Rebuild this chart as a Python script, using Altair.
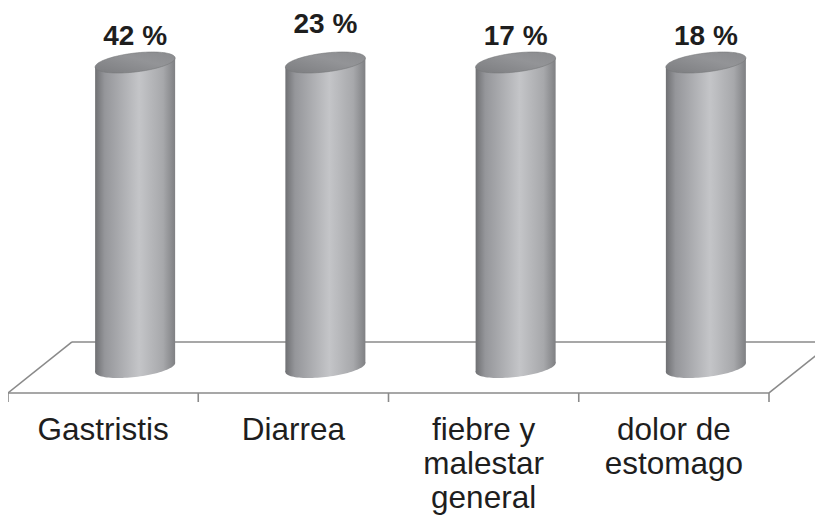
import math
import altair as alt
import pandas as pd

# ---- data ----
categories = ["Gastristis", "Diarrea", "fiebre y\nmalestar\ngeneral", "dolor de\nestomago"]
percent = [42, 23, 17, 18]
# in the picture every cylinder is drawn at the same height, whatever its percentage
drawn_height = [100, 100, 100, 100]

# ---- layout / style constants ----
N = len(categories)
BAND_PX = 190.25          # width of one category band in px
PX_PER_UNIT = 3.05        # px per y unit
HALF_DX = 32 / BAND_PX    # half of the 3-D floor depth, x direction (band units)
HALF_DY = 25.5 / PX_PER_UNIT  # half of the 3-D floor depth, y direction (y units)
HALF_W = 40 / BAND_PX     # half cylinder width (band units)
TILT = 4.5 / PX_PER_UNIT  # tilt of the elliptic ends (y units)
TICK = 9 / PX_PER_UNIT
CYL_PX = 80               # cylinder width in px (for the ellipse symbols)

FONT = "Liberation Sans"

def ellipse_path(beta, shear, n=96):
    pts = []
    for k in range(n):
        t = 2 * math.pi * k / n
        px = math.cos(t)
        py = beta * math.sin(t) - shear * math.cos(t)
        pts.append(f"{px:.4f},{py:.4f}")
    return "M" + " L".join(pts) + " Z"

ELLIPSE = ellipse_path(0.237, 4.5 / (CYL_PX / 2))

body_grad = {
    "gradient": "linear", "x1": 0, "y1": 0, "x2": 1, "y2": 0,
    "stops": [
        {"offset": 0.0, "color": "#6f7073"},
        {"offset": 0.12, "color": "#95969a"},
        {"offset": 0.55, "color": "#c4c5c8"},
        {"offset": 0.85, "color": "#a7a8ab"},
        {"offset": 1.0, "color": "#7f8083"},
    ],
}
top_grad = {
    "gradient": "linear", "x1": 0, "y1": 1, "x2": 1, "y2": 0,
    "stops": [
        {"offset": 0.0, "color": "#7c7d80"},
        {"offset": 0.6, "color": "#939497"},
        {"offset": 1.0, "color": "#8a8b8e"},
    ],
}

df = pd.DataFrame({
    "cat": categories,
    "idx": list(range(N)),
    "pct": percent,
    "h": drawn_height,
})
df["label"] = [f"{p} %" for p in percent]

x_scale = alt.Scale(domain=[0, N], nice=False, zero=False)
y_scale = alt.Scale(domain=[-48.69, 117.87], nice=False, zero=False)
X = lambda f: alt.X(f, scale=x_scale, axis=None)
Y = lambda f: alt.Y(f, scale=y_scale, axis=None, stack=None)

# floor parallelogram (front, back, left, right edges)
floor_df = pd.DataFrame({
    "x": [0, 2 * HALF_DX, 0, N],
    "x2": [N, N + 2 * HALF_DX, 2 * HALF_DX, N + 2 * HALF_DX],
    "y": [-HALF_DY, HALF_DY, -HALF_DY, -HALF_DY],
    "y2": [-HALF_DY, HALF_DY, HALF_DY, HALF_DY],
})
floor = alt.Chart(floor_df).mark_rule(color="#8a8a8a", strokeWidth=1.6).encode(
    x=X("x:Q"), x2="x2:Q", y=Y("y:Q"), y2="y2:Q"
)

tick_df = pd.DataFrame({"x": list(range(N + 1))})
ticks = alt.Chart(tick_df).mark_rule(color="#8a8a8a", strokeWidth=1.6).transform_calculate(
    y=f"{-HALF_DY}", y2=f"{-HALF_DY - TICK}"
).encode(x=X("x:Q"), y=Y("y:Q"), y2="y2:Q")

base = alt.Chart(df).transform_calculate(
    cx=f"datum.idx + 0.5 + {HALF_DX}", zero="0"
)

bottom = base.mark_point(
    shape=ELLIPSE, size=CYL_PX ** 2, filled=True, fill=body_grad, opacity=1, strokeWidth=0
).encode(x=X("cx:Q"), y=Y("zero:Q"))

body = alt.Chart(df).transform_calculate(
    side="[-1, 1]"
).transform_flatten(["side"]).transform_calculate(
    xs=f"datum.idx + 0.5 + {HALF_DX} + datum.side * {HALF_W}",
    yt=f"datum.h + datum.side * {TILT}",
    yb=f"datum.side * {TILT}",
).mark_area(fill=body_grad, opacity=1, orient="vertical").encode(
    x=X("xs:Q"), y=Y("yt:Q"), y2="yb:Q", detail="cat:N"
)

top = base.mark_point(
    shape=ELLIPSE, size=CYL_PX ** 2, filled=True, fill=top_grad, opacity=1,
    stroke="#77787b", strokeWidth=0.6
).encode(x=X("cx:Q"), y=Y("h:Q"))

val_text = dict(font=FONT, fontSize=28, fontWeight="bold", color="#1e1e1e",
                align="center", baseline="alphabetic")
values_main = base.transform_filter("datum.idx != 1").mark_text(dy=-17.5, **val_text).encode(
    x=X("cx:Q"), y=Y("h:Q"), text="label:N"
)
values_raised = base.transform_filter("datum.idx == 1").mark_text(dy=-29.5, **val_text).encode(
    x=X("cx:Q"), y=Y("h:Q"), text="label:N"
)

cat_labels = alt.Chart(df).transform_calculate(
    lx="datum.idx + 0.5", ly="-23.77"
).mark_text(
    font=FONT, fontSize=31.5, color="#1e1e1e", align="center", baseline="alphabetic",
    lineBreak="\n", lineHeight=33.8
).encode(x=X("lx:Q"), y=Y("ly:Q"), text="cat:N")

chart = alt.layer(
    floor, ticks, bottom, body, top, values_main, values_raised, cat_labels
).properties(
    width=761, height=508,
    autosize=alt.AutoSizeParams(type="none"),
    padding={"left": 0, "top": 0, "right": 46, "bottom": 0},
    background="white",
).configure_view(stroke=None)

chart.save("out.html", embed_options={"renderer": "svg", "actions": False})
